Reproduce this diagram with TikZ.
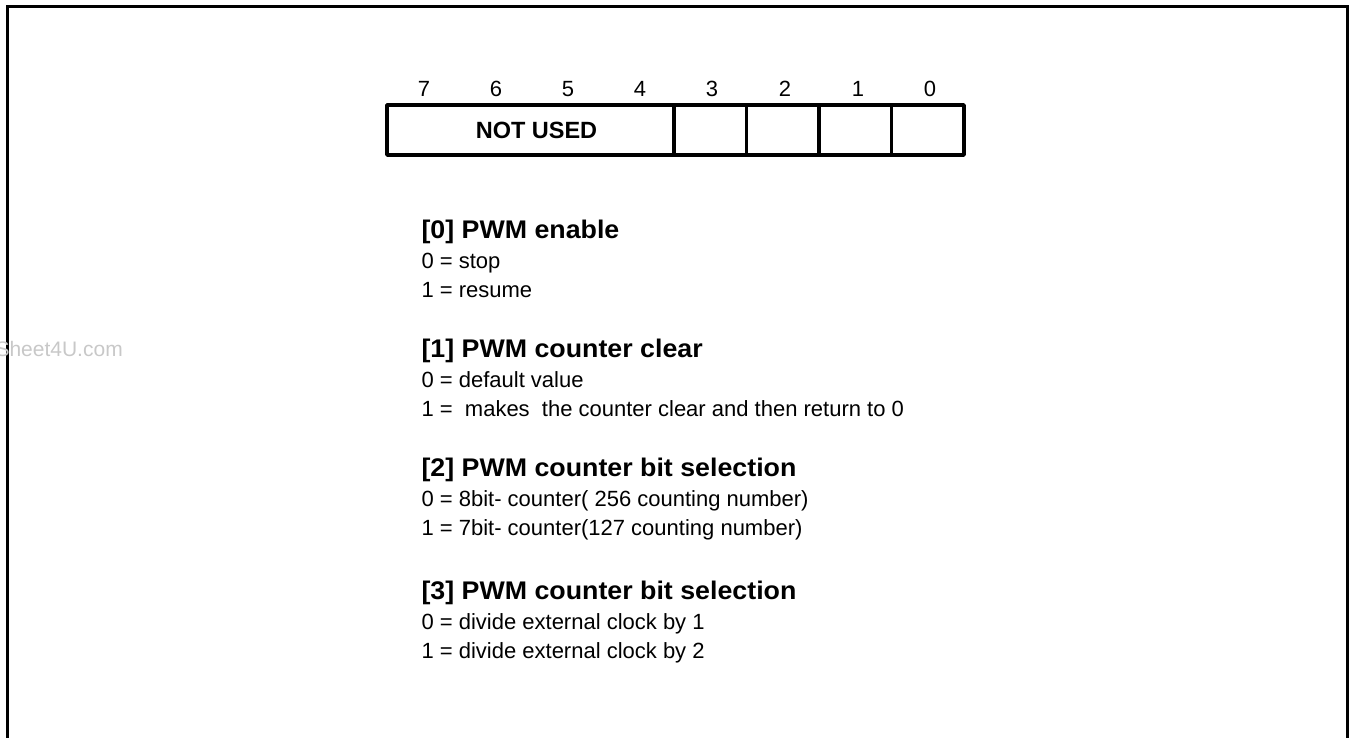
\documentclass[tikz,border=0pt]{standalone}
\usepackage{fontspec}
\setmainfont{Liberation Sans}
\newfontfamily\headfont[FakeStretch=1.05]{Liberation Sans}
\usepackage{tikz}
\usetikzlibrary{positioning}
\definecolor{LineBlack}{HTML}{000000}
\definecolor{MarkGray}{HTML}{C8C8C8}

\tikzset{
  regline/.style={draw=LineBlack, line width=3.5pt, line join=round},
  cellbox/.style={regline, minimum height=50pt, minimum width=72.5pt,
    inner sep=0pt, outer sep=0pt},
  bitnum/.style={anchor=base, font=\fontsize{22}{26}\selectfont},
  headtext/.style={anchor=base west, font=\headfont\bfseries\fontsize{25.5}{30}\selectfont},
  bodytext/.style={anchor=base west, font=\fontsize{22}{26}\selectfont}
}

\begin{document}
\begin{tikzpicture}[x=1pt, y=-1pt]
  \useasboundingbox (0,0) rectangle (1349,738);
  % frame, open at the bottom
  \coordinate (fbl) at (7,738);
  \coordinate (ftl) at (7,7);
  \coordinate (ftr) at (1347,7);
  \coordinate (fbr) at (1347,738);
  \draw[LineBlack, line width=3pt] (fbl) -- (ftl) -- (ftr) -- (fbr);

  \node[anchor=base west, text=MarkGray, font=\fontsize{21}{25}\selectfont]
    (mark) at (-8,356) {Sheet4U.com};

  % register
  \node[cellbox, minimum width=287pt, anchor=north west,
        font=\bfseries\fontsize{23.5}{28}\selectfont] (unused) at (387,105) {\hspace*{12pt}NOT USED};
  \node[cellbox, right=0pt of unused] (b3) {};
  \node[cellbox, right=0pt of b3] (b2) {};
  \node[cellbox, right=0pt of b2] (b1) {};
  \node[cellbox, right=0pt of b1] (b0) {};
  \foreach \b/\x in {7/424, 6/496, 5/568, 4/640, 3/712, 2/785, 1/858, 0/930}
    \node[bitnum] (n\b) at (\x,97) {\b};

  % bit descriptions
  \foreach \y/\head/\zero/\one [count=\i from 0] in {
    238/{[0] PWM enable}/{0 = stop}/{1 = resume},
    357/{[1] PWM counter clear}/{0 = default value}/{1 =\ \ makes\ \ the counter clear and then return to 0},
    476/{[2] PWM counter bit selection}/{0 = 8bit- counter( 256 counting number)}/{1 = 7bit- counter(127 counting number)},
    599/{[3] PWM counter bit selection}/{0 = divide external clock by 1}/{1 = divide external clock by 2}
  }{
    \node[headtext] (h\i) at (418,\y) {\head};
    \node[bodytext] (z\i) at (418,\y+30.5) {\zero};
    \node[bodytext] (o\i) at (418,\y+59) {\one};
  }
\end{tikzpicture}
\end{document}
